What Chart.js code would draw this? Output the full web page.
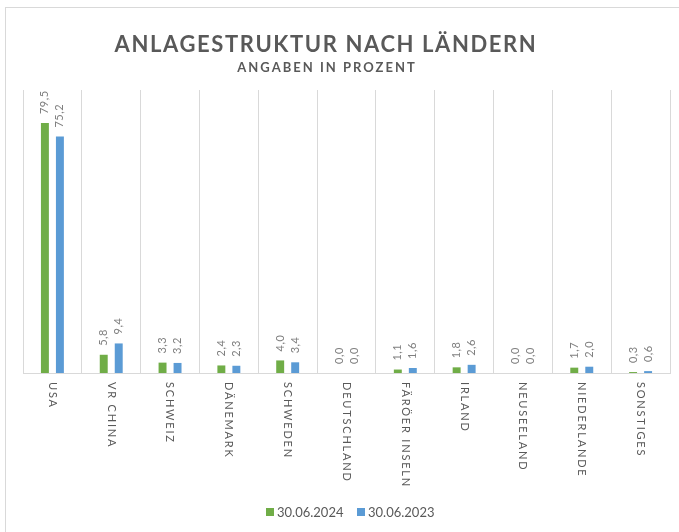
<!DOCTYPE html>
<html>
<head>
<meta charset="utf-8">
<script src="https://cdn.jsdelivr.net/npm/chart.js@4"></script>
<style>
  html, body { margin: 0; padding: 0; background: #fff; }
  #wrap { position: relative; width: 679px; height: 532px; overflow: hidden; }
  #frame { position: absolute; left: 5px; top: 7px; width: 700px; height: 600px; border: 1px solid #d9d9d9; }
  canvas { position: absolute; left: 0; top: 0; }
</style>
</head>
<body>
<div id="wrap">
  <div id="frame"></div>
  <canvas id="chart-countries" width="679" height="532"></canvas>
</div>
<script>
const TITLE = 'ANLAGESTRUKTUR NACH LÄNDERN';
const SUBTITLE = 'ANGABEN IN PROZENT';
const countries = ['USA', 'VR CHINA', 'SCHWEIZ', 'DÄNEMARK', 'SCHWEDEN', 'DEUTSCHLAND',
  'FÄRÖER INSELN', 'IRLAND', 'NEUSEELAND', 'NIEDERLANDE', 'SONSTIGES'];
const share2024 = [79.5, 5.8, 3.3, 2.4, 4.0, 0.0, 1.1, 1.8, 0.0, 1.7, 0.3];
const share2023 = [75.2, 9.4, 3.2, 2.3, 3.4, 0.0, 1.6, 2.6, 0.0, 2.0, 0.6];
const seriesLabels = ['30.06.2024', '30.06.2023'];

const GREEN = '#70ad47';
const BLUE = '#5b9bd5';
const TEXT = '#595959';
const FONT = 'Lato, "Open Sans", sans-serif';

const fmtDe = v => v.toFixed(1).replace('.', ',');

// titles, rotated value labels, rotated category labels and legend
const decorPlugin = {
  id: 'decor',
  afterDraw(chart) {
    const ctx = chart.ctx;
    const xScale = chart.scales.x;

    ctx.save();
    ctx.fillStyle = TEXT;
    ctx.textAlign = 'center';
    ctx.textBaseline = 'alphabetic';
    ctx.font = `bold 22px ${FONT}`;
    ctx.letterSpacing = '1.6px';
    ctx.fillText(TITLE, 326, 52);
    ctx.font = `bold 13px ${FONT}`;
    ctx.letterSpacing = '2px';
    ctx.fillText(SUBTITLE, 327, 72);
    ctx.restore();

    // value labels
    chart.data.datasets.forEach((ds, di) => {
      const meta = chart.getDatasetMeta(di);
      meta.data.forEach((bar, i) => {
        ctx.save();
        ctx.fillStyle = '#7f7f7f';
        ctx.font = `11px ${FONT}`;
        ctx.letterSpacing = '0.5px';
        ctx.translate(bar.x, bar.y - 9);
        ctx.rotate(-Math.PI / 2);
        ctx.textAlign = 'left';
        ctx.textBaseline = 'middle';
        ctx.fillText(fmtDe(ds.data[i]), 0, 0);
        ctx.restore();
      });
    });

    // category labels
    countries.forEach((c, i) => {
      const x = xScale.getPixelForValue(i);
      ctx.save();
      ctx.fillStyle = TEXT;
      ctx.font = `11px ${FONT}`;
      ctx.letterSpacing = '1.8px';
      ctx.translate(x, 382);
      ctx.rotate(Math.PI / 2);
      ctx.textAlign = 'left';
      ctx.textBaseline = 'middle';
      ctx.fillText(c, 0, 0);
      ctx.restore();
    });

    // legend
    ctx.save();
    ctx.font = `13px ${FONT}`;
    ctx.textBaseline = 'middle';
    ctx.textAlign = 'left';
    const legendX = [266, 357];
    chart.data.datasets.forEach((ds, di) => {
      ctx.fillStyle = ds.backgroundColor;
      ctx.fillRect(legendX[di], 508, 8, 8);
      ctx.fillStyle = TEXT;
      ctx.fillText(ds.label, legendX[di] + 11, 512.5);
    });
    ctx.restore();
  }
};

new Chart(document.getElementById('chart-countries'), {
  type: 'bar',
  data: {
    labels: countries,
    datasets: [
      { label: seriesLabels[0], data: share2024, backgroundColor: GREEN },
      { label: seriesLabels[1], data: share2023, backgroundColor: BLUE },
    ],
  },
  options: {
    responsive: false,
    animation: false,
    categoryPercentage: 0.51,
    barPercentage: 0.53,
    layout: { padding: { left: 23, right: 9, top: 90, bottom: 159 } },
    plugins: {
      legend: { display: false },
      title: { display: false },
      tooltip: { enabled: false },
    },
    scales: {
      x: {
        offset: true,
        grid: { offset: true, color: '#d9d9d9', drawTicks: false },
        border: { color: '#d9d9d9' },
        ticks: { display: false },
      },
      y: { display: false, min: 0, max: 90 },
    },
  },
  plugins: [decorPlugin],
});
</script>
</body>
</html>
